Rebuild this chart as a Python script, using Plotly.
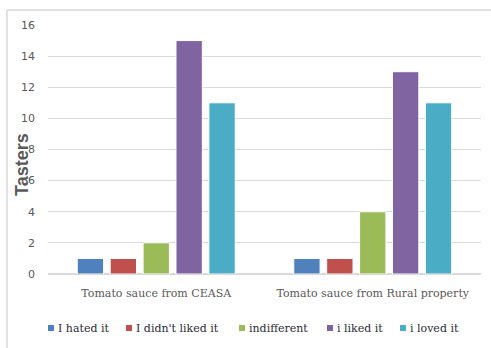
import plotly.graph_objects as go

categories = ["Tomato sauce from CEASA", "Tomato sauce from Rural property"]
series_names = ["I hated it", "I didn't liked it", "indifferent", "i liked it", "i loved it"]
series_values = [
    [1, 1],
    [1, 1],
    [2, 4],
    [15, 13],
    [11, 11],
]
colors = ["#4F81BD", "#C0504D", "#9BBB59", "#8064A2", "#4BACC6"]
y_ticks = [0, 2, 4, 6, 8, 10, 12, 14, 16]

W, H = 491, 348
L, R, T, B = 48, 10, 25, 74
PW, PH = W - L - R, H - T - B

def px_x(x):
    return (x - L) / PW

def px_y(y):
    return (H - B - y) / PH

fig = go.Figure()
for name, vals, col in zip(series_names, series_values, colors):
    fig.add_trace(go.Bar(
        x=categories, y=vals, name=name, showlegend=False,
        marker=dict(color=col, line=dict(color="white", width=1)),
    ))

shapes = []
annotations = []
# custom legend
legend_x = [48, 126, 239, 327, 400]
leg_y = 328
for name, col, lx in zip(series_names, colors, legend_x):
    shapes.append(dict(type="rect", xref="paper", yref="paper",
                       x0=px_x(lx), x1=px_x(lx + 6), y0=px_y(leg_y + 3), y1=px_y(leg_y - 3),
                       fillcolor=col, line=dict(width=0)))
    annotations.append(dict(text=name, xref="paper", yref="paper", x=px_x(lx + 8), y=px_y(leg_y),
                            xanchor="left", yanchor="middle", showarrow=False,
                            font=dict(family="DejaVu Serif", size=11, color="#2b2b35")))

# chart border (left and top)
shapes.append(dict(type="line", xref="paper", yref="paper", x0=px_x(7), x1=px_x(7),
                   y0=px_y(10), y1=px_y(360), line=dict(color="#D9D9D9", width=1.5)))
shapes.append(dict(type="line", xref="paper", yref="paper", x0=px_x(7), x1=px_x(500),
                   y0=px_y(10), y1=px_y(10), line=dict(color="#D9D9D9", width=1.5)))

annotations.append(dict(text="<b>Tasters</b>", xref="paper", yref="paper", x=px_x(22), y=px_y(165),
                        xanchor="center", yanchor="middle", textangle=-90, showarrow=False,
                        font=dict(family="Liberation Sans", size=18, color="#595959")))

fig.update_layout(
    width=W, height=H,
    margin=dict(l=L, r=R, t=T, b=B),
    paper_bgcolor="white", plot_bgcolor="white",
    barmode="group", bargap=0.24, bargroupgap=0.2,
    shapes=shapes, annotations=annotations,
    xaxis=dict(showgrid=False, showline=False, ticks="", ticklabelstandoff=11,
               tickfont=dict(family="DejaVu Serif", size=11, color="#595959")),
    yaxis=dict(range=[0, 16], tickvals=y_ticks, showgrid=True, gridcolor="#D9D9D9", gridwidth=1,
               zeroline=True, zerolinecolor="#D9D9D9", zerolinewidth=2,
               ticks="", ticklabelstandoff=12,
               tickfont=dict(family="DejaVu Sans", size=11, color="#595959")),
)

fig.write_html("out.html")
